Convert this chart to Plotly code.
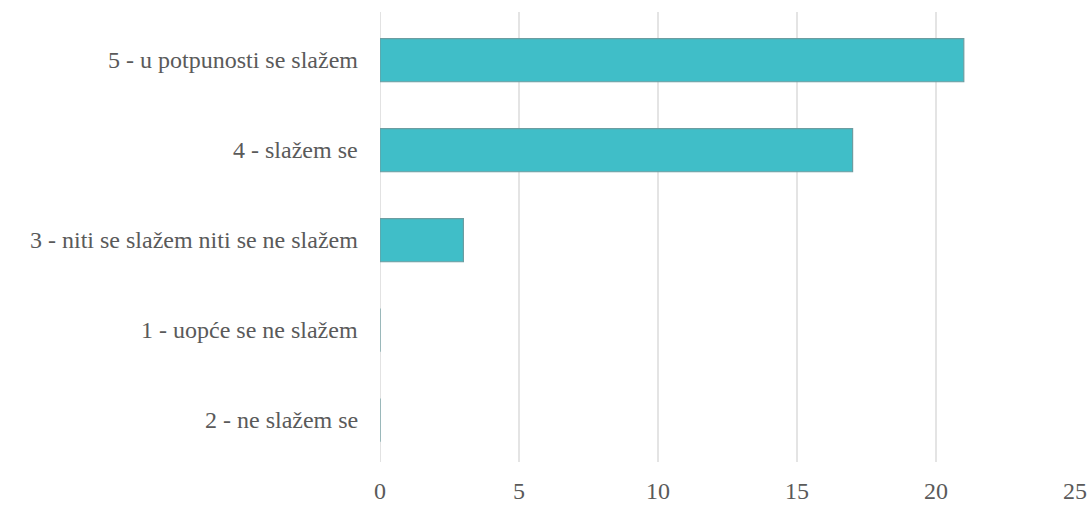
import plotly.graph_objects as go

categories = ["2 - ne slažem se", "1 - uopće se ne slažem",
              "3 - niti se slažem niti se ne slažem", "4 - slažem se",
              "5 - u potpunosti se slažem"]
values = [0, 0, 3, 17, 21]
x_ticks = [0, 5, 10, 15, 20, 25]

serif = "Liberation Serif"
txt = "#5a5a5a"
fig = go.Figure(go.Bar(
    x=values, y=categories, orientation="h",
    marker=dict(color="#40bec8", line=dict(color="#6c9da1", width=1.2)),
    width=0.48,
))
fig.update_layout(
    width=1092, height=505,
    margin=dict(l=380, r=17, t=12, b=43, autoexpand=False),
    paper_bgcolor="white", plot_bgcolor="white",
    font=dict(family=serif, size=24, color=txt),
    showlegend=False,
    xaxis=dict(range=[0, 25], tickvals=x_ticks, showgrid=True,
               gridcolor="#e4e4e4", gridwidth=1.5, zeroline=False,
               showline=False, showticklabels=False, automargin=False),
    yaxis=dict(showgrid=False, showticklabels=False, showline=False,
               automargin=False, range=[-0.465, 4.535]),
)
fig.add_shape(type="line", xref="x", yref="paper", x0=0, x1=0, y0=0, y1=1,
              line=dict(color="#d8d8d8", width=1.5), layer="below")
# axis labels as real text in the serif face
for cat in categories:
    fig.add_annotation(text=cat, xref="paper", x=0, yref="y", y=cat,
                       xanchor="right", yanchor="middle", xshift=-20,
                       showarrow=False,
                       font=dict(family=serif, size=24, color=txt))
for t in x_ticks:
    fig.add_annotation(text=str(t), xref="x", x=t, yref="paper", y=0,
                       xanchor="center", yanchor="top", yshift=-14,
                       showarrow=False,
                       font=dict(family=serif, size=24, color=txt))
fig.write_html("out.html", config={"displayModeBar": False})
with open("out.html", encoding="utf-8") as f:
    html = f.read()
html = html.replace("<head>", "<head><style>html,body{margin:0;padding:0;}</style>", 1)
with open("out.html", "w", encoding="utf-8") as f:
    f.write(html)
